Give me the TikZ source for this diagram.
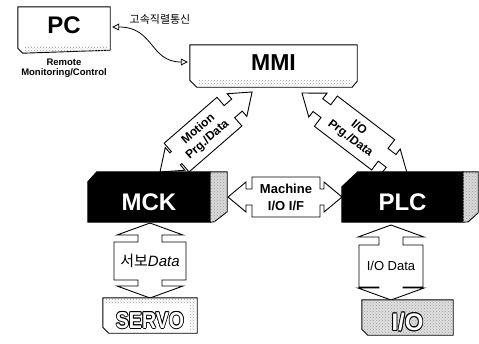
\documentclass[tikz,border=0pt]{standalone}
\usepackage{fontspec}
\usepackage{graphicx}
\setmainfont{Liberation Sans}
\newfontfamily\kr{Noto Sans CJK KR}
\usetikzlibrary{arrows.meta,patterns,calc}
\pgfdeclarelayer{bg}
\pgfsetlayers{bg,main}

\newcommand\hollowtxt[1]{\leavevmode
 \rlap{\kern.9pt #1}\rlap{\kern-.9pt #1}\rlap{\raisebox{.9pt}{#1}}\rlap{\raisebox{-.9pt}{#1}}%
 \rlap{\kern.65pt\raisebox{.65pt}{#1}}\rlap{\kern-.65pt\raisebox{.65pt}{#1}}%
 \rlap{\kern.65pt\raisebox{-.65pt}{#1}}\rlap{\kern-.65pt\raisebox{-.65pt}{#1}}%
 \textcolor{white}{#1}}

% #1 length, #2 head length, #3 head half width, #4 shaft half width,
% #5 box start, #6 box end, #7 box half width
\newcommand\blockarrow[7]{%
 \filldraw[barrow] (0,0) -- (#2,#3) -- (#2,#4) -- (#5,#4) -- (#5,#7) -- (#6,#7) -- (#6,#4)
  -- ({#1-#2},#4) -- ({#1-#2},#3) -- (#1,0) -- ({#1-#2},-#3) -- ({#1-#2},-#4)
  -- (#6,-#4) -- (#6,-#7) -- (#5,-#7) -- (#5,-#4) -- (#2,-#4) -- (#2,-#3) -- cycle;}

\begin{document}
\begin{tikzpicture}[x=1pt,y=-1pt,line join=round,
  boxline/.style={draw=black,line width=0.9pt},
  barrow/.style={draw=black,fill=white,line width=0.9pt,line join=miter},
  speck/.style={pattern=crosshatch dots,pattern color=gray!75},
  boxnode/.style={inner sep=0pt,align=center},
  lblb/.style={inner sep=0pt,align=center,font=\bfseries\fontsize{12}{14}\selectfont},
  conn/.style={line width=0.8pt,{Triangle[open,length=7pt,width=7pt]}-{Triangle[open,length=7pt,width=7pt]}}]
\useasboundingbox (0,0) rectangle (479,343);

% ---- nodes (boxes with their texts)
\node[boxnode,minimum width=92pt,minimum height=46pt,text height=17pt,text depth=9.8pt,
  font=\bfseries\fontsize{24}{24}\selectfont] (pc) at (64,30) {PC};
\node[boxnode,font=\bfseries\fontsize{9.5}{10.5}\selectfont] (remote) at (64,68) {Remote\\Monitoring/Control};
\node[boxnode,minimum width=167pt,minimum height=42pt,text height=9.6pt,text depth=0pt,
  font=\bfseries\fontsize{23}{23}\selectfont] (mmi) at (273.5,66) {MMI};
\node[boxnode,minimum width=122pt,minimum height=50pt,text height=26.2pt,text depth=0pt,
  text=white,font=\bfseries\fontsize{24}{24}\selectfont] (mck) at (149,197) {MCK};
\node[boxnode,minimum width=121pt,minimum height=50pt,text height=26.2pt,text depth=0pt,
  text=white,font=\bfseries\fontsize{24}{24}\selectfont] (plc) at (402.5,197) {PLC};
\node[boxnode,minimum width=94pt,minimum height=35pt,text height=25.4pt,text depth=0pt,
  font=\bfseries\fontsize{23}{23}\selectfont] (servo) at (150,315.5) {\scalebox{0.85}[1]{\hollowtxt{SERVO}}};
\node[boxnode,minimum width=91pt,minimum height=35pt,text height=26.2pt,text depth=0pt,
  font=\bfseries\fontsize{24}{24}\selectfont] (io) at (407.5,317.5) {\hollowtxt{I/O}};
\node[inner sep=0pt,font=\kr\fontsize{11}{11}\selectfont] (krl) at (160,19) {고속직렬통신};

% ---- anchor points of the block arrows
\coordinate (motA) at (160,172);
\coordinate (ioprgA) at (302,93);
\coordinate (machA) at (228,197);
\coordinate (servoA) at (150,223);
\coordinate (iodA) at (391,225);

\begin{pgfonlayer}{bg}
% block arrows
\begin{scope}[shift={(motA)},rotate=41]
  \blockarrow{122}{20}{15}{8}{22}{92}{19}
\end{scope}
\begin{scope}[shift={(ioprgA)},rotate=-37.3]
  \blockarrow{132}{20}{15}{8}{30}{102}{19}
\end{scope}
\begin{scope}[shift={(machA)}]
  \blockarrow{114}{18}{15}{8}{24}{92}{20}
\end{scope}
\begin{scope}[shift={(servoA)},rotate=-90]
  \blockarrow{75}{12}{33}{12}{19}{57}{36}
\end{scope}
\begin{scope}[shift={(iodA)},rotate=-90]
  \blockarrow{75}{12}{33}{12}{20}{62}{32}
\end{scope}

% PC box
\draw[boxline,fill=white] (pc.north west) -- (pc.north east) -- ([yshift=3pt]pc.south east)
  -- ([xshift=5pt]pc.south west) -- ([yshift=5pt]pc.south west) -- cycle;
\path[speck] ([shift={(7pt,2pt)}]pc.south west) rectangle ([shift={(-3pt,7pt)}]pc.south east);
% MMI box
\draw[boxline,fill=white] (mmi.north west) -- (mmi.north east) -- ([yshift=6pt]mmi.south east)
  -- ([xshift=-5pt]mmi.south east) -- ([xshift=7pt]mmi.south west) -- ([yshift=7pt]mmi.south west) -- cycle;
\path[speck] ([shift={(9pt,2pt)}]mmi.south west) rectangle ([shift={(-5pt,7pt)}]mmi.south east);
% MCK block
\draw[boxline,fill=black] ([yshift=-10pt]mck.north west) -- ([xshift=9pt]mck.north west) -- (mck.north east)
  -- (mck.south east) -- (mck.south west) -- cycle;
\draw[boxline,fill=gray!30,postaction={speck}] (mck.north east) -- ++(17pt,0) -- ++(0,-40pt)
  -- ++(-13pt,-10pt) -- (mck.south east) -- cycle;
% PLC block
\draw[boxline,fill=black] ([yshift=-15pt]plc.north west) -- ([xshift=16pt]plc.north west) -- (plc.north east)
  -- (plc.south east) -- (plc.south west) -- cycle;
\draw[boxline,fill=gray!30,postaction={speck}] (plc.north east) -- ++(15pt,0) -- ++(0,-41pt)
  -- ++(-10pt,-9pt) -- (plc.south east) -- cycle;
% SERVO box
\draw[boxline,fill=white] (servo.north west) -- (servo.north east) -- (servo.south east)
  -- ([xshift=6pt]servo.south west) -- ([yshift=6pt]servo.south west) -- cycle;
\path[speck] ([shift={(2pt,-2pt)}]servo.north west) rectangle ([shift={(-2pt,-6pt)}]servo.north east);
\path[speck] ([shift={(-7pt,-6pt)}]servo.north east) rectangle ([shift={(-2pt,3pt)}]servo.south east);
% I/O box
\draw[boxline,fill=gray!25,postaction={speck}] (io.north west) -- (io.north east) -- (io.south east)
  -- ([xshift=6pt]io.south west) -- ([yshift=6pt]io.south west) -- cycle;
\end{pgfonlayer}

% ---- block arrow labels
\begin{scope}[shift={(motA)},rotate=41]
  \node[lblb,transform shape] (motlbl) at (57,0) {Motion\\Prg./Data};
\end{scope}
\begin{scope}[shift={(ioprgA)},rotate=-37.3]
  \node[lblb,transform shape] (ioprglbl) at (66,0) {I/O\\Prg./Data};
\end{scope}
\node[lblb,font=\bfseries\fontsize{13}{17}\selectfont] (machlbl) at (286,197) {Machine\\I/O I/F};
\node[inner sep=0pt,font=\fontsize{15}{15}\selectfont] (servolbl) at (150,261) {{\kr 서보}\textit{Data}};
\node[inner sep=0pt,font=\fontsize{13}{13}\selectfont] (iodlbl) at (391,266) {I/O Data};

% ---- PC <-> MMI serial link
\coordinate (pcp) at ([xshift=2pt,yshift=3pt]pc.east);
\coordinate (mmip) at ([xshift=-2pt,yshift=4pt]mmi.west);
\draw[conn] (pcp) .. controls +(42,0) and +(-38,0) .. (mmip);
\end{tikzpicture}
\end{document}
